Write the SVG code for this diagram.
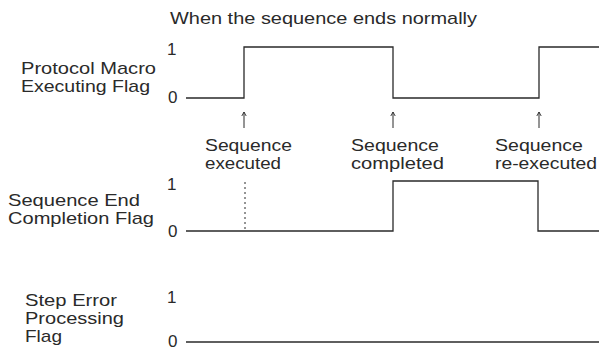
<svg xmlns="http://www.w3.org/2000/svg" width="599" height="355" viewBox="0 0 599 355">
<style>
  text { font-family: "Liberation Sans", Arial, sans-serif; font-size: 17px; fill: #2a2a2a; }
  .ev { font-size: 16.5px; }
  .wave { fill: none; stroke: #2a2a2a; stroke-width: 1.3; }
  .arrow { fill: none; stroke: #2a2a2a; stroke-width: 1; }
  .dash { fill: none; stroke: #2a2a2a; stroke-width: 1; stroke-dasharray: 2 3; }
</style>
<defs>
  <marker id="ah" viewBox="-5 -3 6 6" refX="0" refY="0" markerWidth="6" markerHeight="6" markerUnits="userSpaceOnUse" orient="auto">
    <path d="M-4,-2.2 L0,0 L-4,2.2" fill="none" stroke="#2a2a2a" stroke-width="0.9"/>
  </marker>
</defs>
<rect width="599" height="355" fill="#ffffff"/>

<g id="title">
  <text x="170" y="24" textLength="307" lengthAdjust="spacingAndGlyphs">When the sequence ends normally</text>
</g>

<g id="protocol-macro-executing-flag">
  <text x="21" y="74" textLength="135" lengthAdjust="spacingAndGlyphs">Protocol Macro</text>
  <text x="21" y="92" textLength="129" lengthAdjust="spacingAndGlyphs">Executing Flag</text>
  <text x="167" y="55">1</text>
  <text x="168" y="103">0</text>
  <polyline class="wave" points="186,98 244,98 244,47 393,47 393,98 539,98 539,47 599,47"/>
</g>

<g id="sequence-end-completion-flag">
  <text x="8" y="206" textLength="132" lengthAdjust="spacingAndGlyphs">Sequence End</text>
  <text x="8" y="224" textLength="146" lengthAdjust="spacingAndGlyphs">Completion Flag</text>
  <text x="167" y="190">1</text>
  <text x="168" y="237">0</text>
  <polyline class="wave" points="186,231 393,231 393,181 538,181 538,231 599,231"/>
</g>

<g id="step-error-processing-flag">
  <text x="25" y="306" textLength="92" lengthAdjust="spacingAndGlyphs">Step Error</text>
  <text x="25" y="324" textLength="99" lengthAdjust="spacingAndGlyphs">Processing</text>
  <text x="25" y="342" textLength="37" lengthAdjust="spacingAndGlyphs">Flag</text>
  <text x="167" y="303">1</text>
  <text x="168" y="347">0</text>
  <polyline class="wave" points="186,342 599,342"/>
</g>

<g id="event-sequence-executed">
  <text class="ev" x="205" y="151" textLength="87" lengthAdjust="spacingAndGlyphs">Sequence</text>
  <text class="ev" x="205" y="169" textLength="76" lengthAdjust="spacingAndGlyphs">executed</text>
</g>
<g id="event-sequence-completed">
  <text class="ev" x="351" y="151" textLength="88" lengthAdjust="spacingAndGlyphs">Sequence</text>
  <text class="ev" x="351" y="169" textLength="93" lengthAdjust="spacingAndGlyphs">completed</text>
</g>
<g id="event-sequence-re-executed">
  <text class="ev" x="495" y="151" textLength="88" lengthAdjust="spacingAndGlyphs">Sequence</text>
  <text class="ev" x="495" y="169" textLength="102" lengthAdjust="spacingAndGlyphs">re-executed</text>
</g>

<g id="connectors">
  <line class="arrow" x1="244" y1="128" x2="244" y2="112" marker-end="url(#ah)"/>
  <line class="arrow" x1="393" y1="128" x2="393" y2="112" marker-end="url(#ah)"/>
  <line class="arrow" x1="539" y1="128" x2="539" y2="112" marker-end="url(#ah)"/>
  <line class="dash" x1="245" y1="182" x2="245" y2="230"/>
</g>
</svg>
